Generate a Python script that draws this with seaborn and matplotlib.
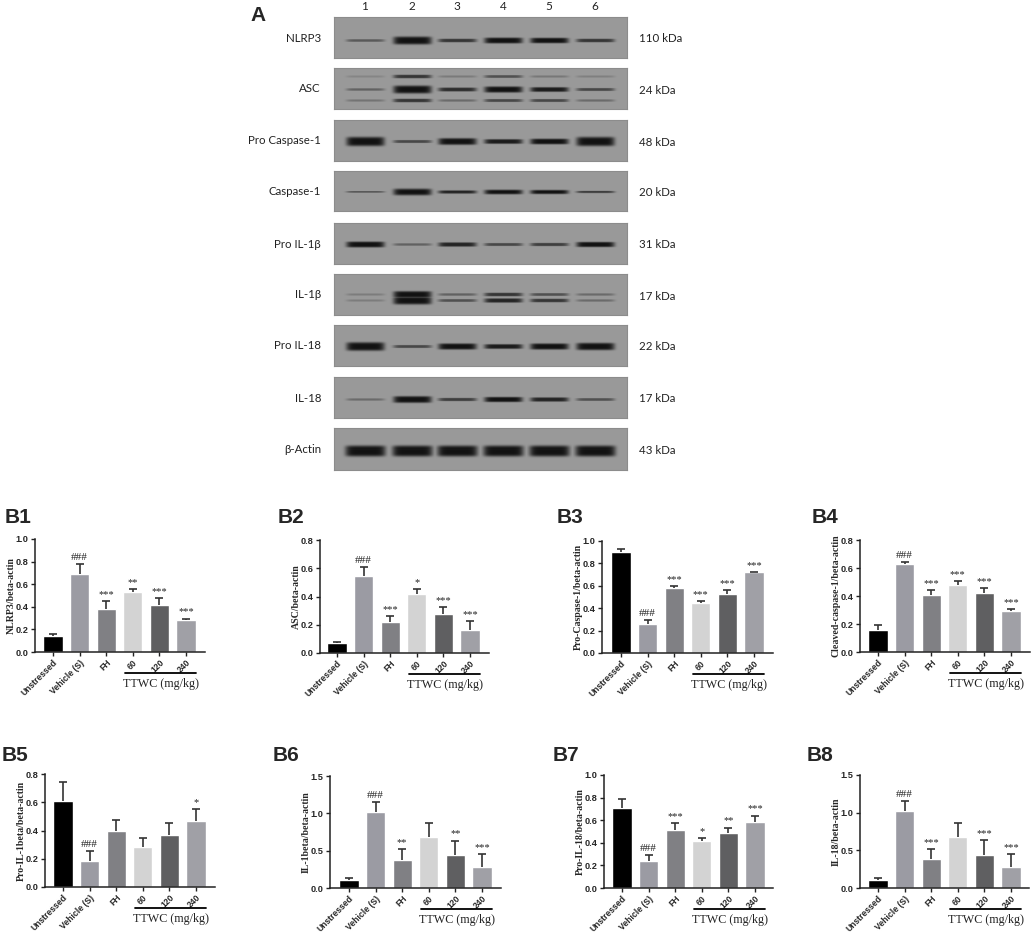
import numpy as np
import pandas as pd
import seaborn as sns
import matplotlib.pyplot as plt

sns.set_style("white")
plt.rcParams['font.family'] = ['Liberation Sans', 'DejaVu Sans']

W, H = 1031, 933

groups = ['Unstressed', 'Vehicle (S)', 'FH', '60', '120', '240']
bar_colors = ['#000000', '#9b9ba3', '#808084', '#d3d3d3', '#5f5f61', '#a0a0a6']

# bar heights and SEM
b1_vals = [0.14, 0.69, 0.38, 0.53, 0.42, 0.285]
b1_errs = [0.015, 0.085, 0.07, 0.03, 0.06, 0.01]
b2_vals = [0.07, 0.545, 0.22, 0.415, 0.275, 0.165]
b2_errs = [0.005, 0.065, 0.04, 0.04, 0.05, 0.06]
b3_vals = [0.90, 0.26, 0.58, 0.445, 0.525, 0.72]
b3_errs = [0.03, 0.035, 0.02, 0.015, 0.035, 0.005]
b4_vals = [0.16, 0.63, 0.405, 0.48, 0.425, 0.29]
b4_errs = [0.035, 0.015, 0.035, 0.025, 0.03, 0.015]
b5_vals = [0.61, 0.185, 0.40, 0.28, 0.37, 0.47]
b5_errs = [0.135, 0.07, 0.075, 0.065, 0.08, 0.08]
b6_vals = [0.11, 1.02, 0.38, 0.68, 0.44, 0.28]
b6_errs = [0.03, 0.13, 0.14, 0.185, 0.195, 0.175]
b7_vals = [0.71, 0.235, 0.515, 0.415, 0.485, 0.585]
b7_errs = [0.075, 0.055, 0.06, 0.03, 0.05, 0.055]
b8_vals = [0.11, 1.02, 0.38, 0.68, 0.44, 0.28]
b8_errs = [0.025, 0.13, 0.14, 0.185, 0.195, 0.175]

b1_marks = ['', '###', '***', '**', '***', '***']
b2_marks = ['', '###', '***', '*', '***', '***']
b3_marks = ['', '###', '***', '***', '***', '***']
b4_marks = ['', '###', '***', '***', '***', '***']
b5_marks = ['', '###', '', '', '', '*']
b6_marks = ['', '###', '**', '', '**', '***']
b7_marks = ['', '###', '***', '*', '**', '***']
b8_marks = ['', '###', '***', '', '***', '***']

# western blot band strength per lane (rough densitometry by eye)
nlrp3_band = [0.25, 0.9, 0.45, 0.72, 0.68, 0.45]
asc_upper = [0.0, 0.45, 0.06, 0.3, 0.08, 0.03]
asc_mid = [0.2, 0.9, 0.5, 0.75, 0.6, 0.35]
asc_lower = [0.1, 0.45, 0.15, 0.35, 0.35, 0.15]
pro_casp_band = [1.0, 0.35, 0.8, 0.6, 0.7, 1.0]
casp_band = [0.25, 0.88, 0.55, 0.7, 0.65, 0.4]
pro_il1b_band = [0.72, 0.2, 0.55, 0.35, 0.4, 0.65]
il1b_upper = [0.05, 0.8, 0.2, 0.45, 0.3, 0.15]
il1b_lower = [0.05, 0.9, 0.3, 0.55, 0.45, 0.15]
pro_il18_band = [0.95, 0.35, 0.75, 0.6, 0.75, 0.85]
il18_band = [0.15, 0.8, 0.4, 0.65, 0.55, 0.3]
actin_band = [1.4, 1.3, 1.3, 1.3, 1.3, 1.3]

blot_names = ['NLRP3', 'ASC', 'Pro Caspase-1', 'Caspase-1', 'Pro IL-1β',
              'IL-1β', 'Pro IL-18', 'IL-18', 'β-Actin']
blot_kda = ['110 kDa', '24 kDa', '48 kDa', '20 kDa', '31 kDa',
            '17 kDa', '22 kDa', '17 kDa', '43 kDa']
lane_labels = ['1', '2', '3', '4', '5', '6']

fig = plt.figure(figsize=(W / 100, H / 100), dpi=100)


def add_axes_px(left, top, right, bottom):
    return fig.add_axes([left / W, 1 - bottom / H, (right - left) / W, (bottom - top) / H])


def blot_image(bands, half_width=19):
    rows, cols = 41, 293
    centers = [31, 78, 123, 169, 215, 261]
    yy, xx = np.mgrid[0:rows, 0:cols]
    bg = 0.60
    img = np.full((rows, cols), bg)
    for row, strengths in bands:
        for c, s in zip(centers, strengths):
            sigma = min(5.0, 1.1 + 3.5 * s ** 2)
            prof_y = np.exp(-(np.abs(yy - row) / sigma) ** 4)
            prof_x = np.exp(-(np.abs(xx - c) / half_width) ** 8)
            dark = prof_y * prof_x * min(1.0, 0.15 + 1.3 * s)
            img = np.minimum(img, bg * (1 - dark) + 0.07 * dark)
    return img


def draw_blot(idx, top, bottom, bands, half_width=19):
    ax = add_axes_px(334, top, 627, bottom)
    sns.heatmap(blot_image(bands, half_width), cmap='gray', vmin=0, vmax=1, cbar=False,
                xticklabels=False, yticklabels=False, ax=ax)
    for s in ax.spines.values():
        s.set_visible(True)
        s.set_color('#8c8c8c')
        s.set_linewidth(0.8)
    mid = (top + bottom) / 2
    fig.text(321 / W, 1 - (mid + 0.5) / H, blot_names[idx], ha='right', va='center',
             family='Lato', fontsize=8.3, color='#222222')
    fig.text(639 / W, 1 - (mid + 1.5) / H, blot_kda[idx], ha='left', va='center',
             family='Lato', fontsize=8.3, color='#222222')


def draw_bars(box, first, label, lab_xy, ylabel, vals, errs, marks, ymax, ticks, tickfmt):
    left, top, right, bottom = box
    step = 26.6
    ax = add_axes_px(left, top, right, bottom)
    df = pd.DataFrame({'group': groups, 'value': vals})
    sns.barplot(data=df, x='group', y='value', hue='group', palette=bar_colors,
                saturation=1, width=0.72, legend=False, ax=ax)
    eb = ax.errorbar(range(6), vals, yerr=[np.zeros(6), errs], fmt='none', ecolor='#333333',
                     elinewidth=1.2, capsize=3.2, capthick=1.2)
    # upper whisker only, the graph has no cap sitting on the bar top
    eb[1][0].set_visible(False)
    ax.set_xlim((left - first) / step, (right - first) / step)
    ax.set_ylim(0, ymax)
    ax.set_yticks(ticks)
    ax.set_yticklabels([tickfmt % t for t in ticks], fontsize=6.6, fontweight='bold')
    ax.set_xticks(range(6))
    ax.set_xticklabels(groups, rotation=45, ha='right', rotation_mode='anchor',
                       fontsize=6.2, fontweight='bold')
    ax.set_xlabel('')
    ax.set_ylabel(ylabel, family='Liberation Serif', fontsize=7.1, fontweight='bold', labelpad=0)
    ax.tick_params(axis='both', direction='out', length=3, width=1, pad=1.5, color='#222222',
                   left=True, bottom=True)
    sns.despine(ax=ax)
    for s in ('left', 'bottom'):
        ax.spines[s].set_linewidth(1.1)
        ax.spines[s].set_color('#222222')
    for i, m in enumerate(marks):
        if m:
            ax.annotate(m, (i, vals[i] + errs[i]), xytext=(0, 1.5), textcoords='offset points',
                        ha='center', va='bottom', family='Liberation Serif',
                        fontsize=8 if m == '###' else 7.5, color='#222222')
    ax.plot([2.7, 5.37], [-0.186, -0.186], color='black', lw=1.3, clip_on=False,
            transform=ax.get_xaxis_transform())
    ax.text(4.05, -0.285, 'TTWC (mg/kg)', transform=ax.get_xaxis_transform(), ha='center',
            va='center', family='Liberation Serif', fontsize=8.7, color='#222222')
    fig.text(lab_xy[0] / W, 1 - lab_xy[1] / H, label, fontsize=15, fontweight='bold',
             ha='left', va='baseline')


draw_blot(0, 17, 58, [(23, nlrp3_band)])
draw_blot(1, 68, 109, [(8, asc_upper), (21, asc_mid), (32, asc_lower)])
draw_blot(2, 120, 161, [(21, pro_casp_band)])
draw_blot(3, 171, 211, [(21, casp_band)])
draw_blot(4, 223, 264, [(21, pro_il1b_band)])
draw_blot(5, 274, 315, [(20, il1b_upper), (26, il1b_lower)])
draw_blot(6, 325, 366, [(21, pro_il18_band)])
draw_blot(7, 377, 418, [(22, il18_band)])
draw_blot(8, 428, 470, [(22, actin_band)], half_width=20)

for x, lab in zip([365, 412, 457, 503, 549, 595], lane_labels):
    fig.text(x / W, 1 - 6.5 / H, lab, ha='center', va='center', family='Lato', fontsize=8.5,
             color='#222222')
fig.text(250 / W, 1 - 21 / H, 'A', fontsize=15, fontweight='bold', ha='left', va='baseline')

t10 = [0.0, 0.2, 0.4, 0.6, 0.8, 1.0]
t08 = [0.0, 0.2, 0.4, 0.6, 0.8]
t15 = [0.0, 0.5, 1.0, 1.5]

draw_bars((35, 539, 205, 652), 53, 'B1', (5, 523), 'NLRP3/beta-actin',
          b1_vals, b1_errs, b1_marks, 1.0, t10, '%.1f')
draw_bars((320, 540, 489, 653), 337, 'B2', (278, 523), 'ASC/beta-actin',
          b2_vals, b2_errs, b2_marks, 0.8, t08, '%.1f')
draw_bars((602, 541, 773, 653), 621, 'B3', (557, 523), 'Pro-Caspase-1/beta-actin',
          b3_vals, b3_errs, b3_marks, 1.0, t10, '%.1f')
draw_bars((860, 540, 1030, 652), 878, 'B4', (812, 523), 'Cleaved-caspase-1/beta-actin',
          b4_vals, b4_errs, b4_marks, 0.8, t08, '%.1f')
draw_bars((45, 774, 215, 887), 63, 'B5', (2, 761), 'Pro-IL-1beta/beta-actin',
          b5_vals, b5_errs, b5_marks, 0.8, t08, '%.1f')
draw_bars((330, 776, 501, 888), 349, 'B6', (273, 761), 'IL-1beta/beta-actin',
          b6_vals, b6_errs, b6_marks, 1.5, t15, '%.1f')
draw_bars((604, 775, 773, 888), 622, 'B7', (553, 761), 'Pro-IL-18/beta-actin',
          b7_vals, b7_errs, b7_marks, 1.0, t10, '%.1f')
draw_bars((860, 775, 1029, 888), 878, 'B8', (807, 761), 'IL-18/beta-actin',
          b8_vals, b8_errs, b8_marks, 1.5, t15, '%.1f')

fig.savefig('out.png', dpi=100)
